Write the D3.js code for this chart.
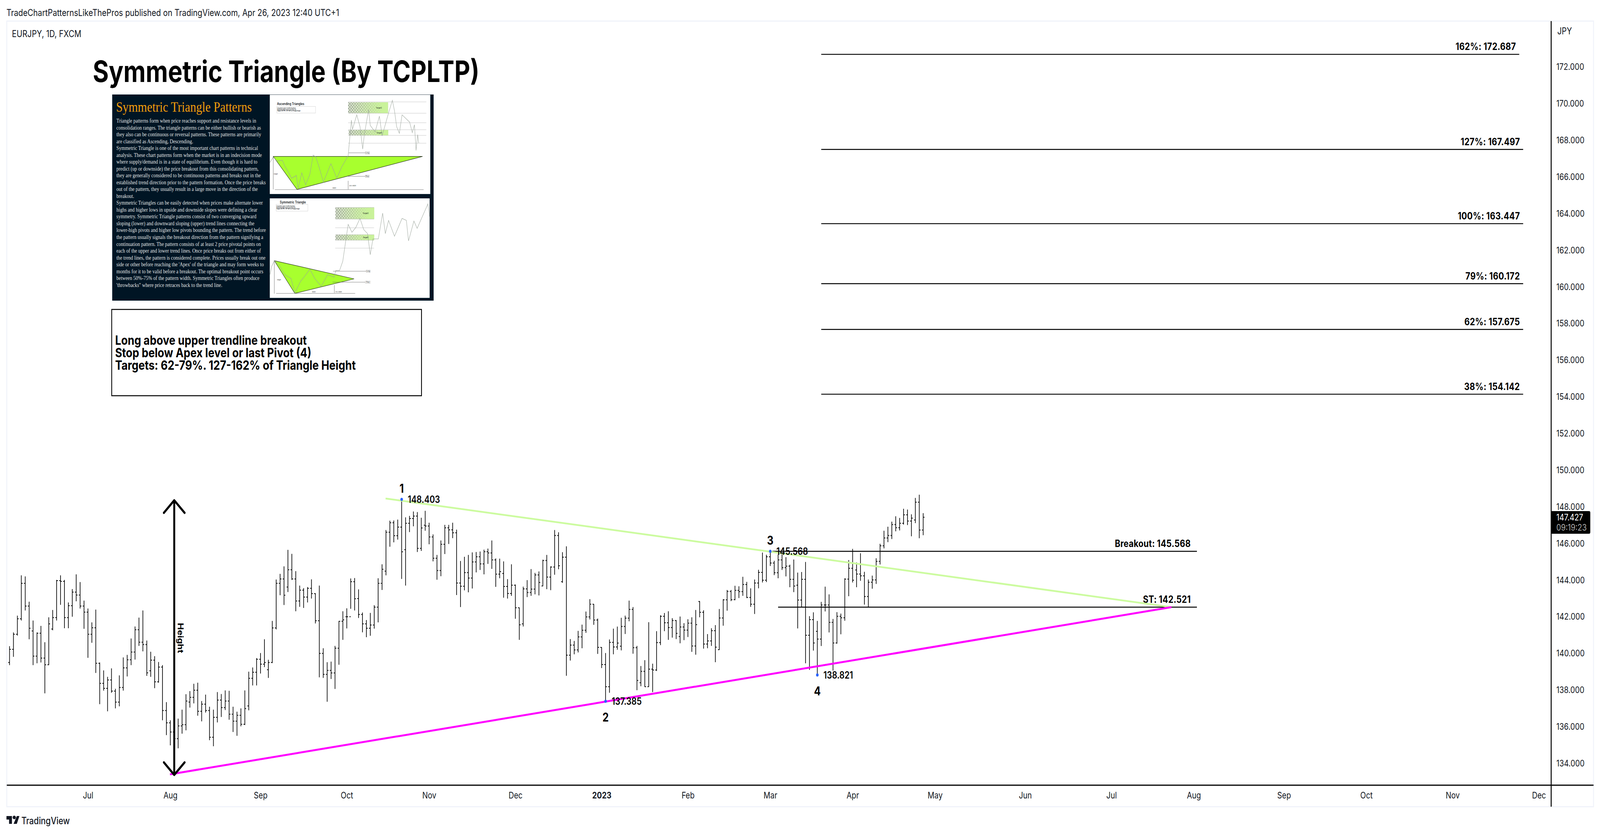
<!DOCTYPE html>
<html>
<head>
<meta charset="utf-8">
<script src="https://cdn.jsdelivr.net/npm/d3@7"></script>
<style>
  html, body { margin: 0; background: #fff; overflow: hidden; }
  text { font-family: Inter, Roboto, sans-serif; fill: #131722; }
</style>
</head>
<body>
<script>
// daily bars
const opens = [
139.50,140.22,141.04,141.89,143.82,142.58,141.22,139.85,141.10,139.74,
139.38,141.33,141.95,143.97,143.93,141.95,142.60,143.34,143.18,142.58,
142.25,141.04,141.40,139.46,138.36,138.09,138.55,137.94,137.34,138.14,
139.21,139.65,140.07,141.29,140.61,140.48,139.05,139.63,138.45,139.25,
136.88,136.21,135.71,135.35,136.04,136.11,137.34,137.60,137.99,136.84,
137.23,136.88,135.42,136.51,137.45,137.04,137.40,136.68,136.30,136.62,
136.13,137.13,138.64,138.97,139.68,139.41,139.11,139.50,141.39,143.82,
144.06,143.62,144.56,144.06,142.86,143.45,143.07,143.55,143.26,141.78,
140.00,138.85,139.07,138.93,140.28,141.75,142.00,142.00,143.91,142.99,
142.12,141.61,141.37,141.55,142.52,143.82,144.49,146.61,147.13,146.42,
146.89,145.66,147.10,147.36,147.49,145.73,146.99,146.95,146.35,145.19,
144.52,145.95,146.85,146.74,146.58,143.84,143.66,144.41,144.11,144.99,
145.27,144.88,145.55,145.48,145.10,144.32,144.36,143.65,143.27,143.72,
142.49,141.61,143.52,143.32,143.51,144.28,143.68,145.07,144.16,144.71,
146.43,143.91,145.25,139.90,140.45,140.19,140.90,141.26,141.99,142.68,
141.82,140.33,139.39,138.18,140.60,140.35,140.39,141.47,141.92,142.40,
140.31,138.40,139.02,138.18,139.14,139.09,140.59,142.02,141.67,141.41,
141.79,140.92,141.44,141.27,141.65,140.40,142.83,142.24,140.51,140.68,
141.24,140.20,141.93,142.92,143.38,142.93,143.44,143.37,143.76,143.05,
142.68,143.84,144.42,143.99,145.27,144.93,144.40,145.10,144.68,144.76,
144.04,143.72,142.91,144.04,140.99,141.84,141.20,140.78,142.64,142.64,
141.69,140.57,142.02,141.94,144.05,144.64,144.55,144.33,144.23,143.10,
143.88,144.01,145.02,145.87,146.30,146.43,147.03,146.86,147.10,147.56,
147.22,147.28,148.25,146.73];
const highs = [
140.39,141.14,142.06,144.26,144.20,142.82,141.79,141.14,141.50,140.61,
141.97,142.37,144.01,144.26,144.01,142.78,143.51,144.31,143.89,142.88,
142.45,141.69,142.39,139.50,139.07,138.72,139.18,138.07,138.80,139.78,
139.92,140.81,141.47,141.95,142.34,140.70,140.09,139.85,139.53,139.36,
137.34,136.35,135.93,136.44,136.93,137.77,137.94,138.34,138.40,137.40,
137.75,137.09,136.93,137.89,137.78,137.98,137.96,137.09,136.82,137.00,
137.98,139.00,139.23,139.74,140.02,140.77,139.65,141.77,144.03,144.34,
144.75,145.65,145.43,144.49,143.70,143.56,143.62,144.04,143.28,143.70,
140.28,139.52,139.55,140.41,141.77,142.30,142.46,144.09,144.11,143.49,
142.23,141.82,142.21,142.63,144.10,144.86,146.73,147.24,147.25,147.30,
148.403,147.42,147.50,147.74,147.71,147.40,147.78,147.13,146.49,145.37,
146.16,147.01,147.01,147.13,146.75,145.04,145.27,145.37,145.51,145.53,
145.56,145.66,145.72,146.16,145.18,145.17,145.02,144.05,144.86,143.76,
142.50,143.64,144.00,144.60,144.39,144.47,145.11,145.37,144.75,146.73,
146.61,145.52,145.84,140.78,140.68,141.23,141.57,142.28,142.96,142.69,
141.90,140.33,140.02,140.76,141.35,141.46,141.94,142.06,142.88,142.53,
140.41,139.31,139.63,141.70,139.44,141.21,142.08,142.20,142.30,141.92,
141.82,142.01,141.65,141.86,141.97,142.37,142.85,142.35,141.05,141.37,
141.54,142.42,142.96,143.46,143.46,143.69,143.66,144.18,143.90,143.55,
144.03,144.56,145.50,145.38,145.568,145.05,145.40,145.47,145.25,144.84,
145.12,144.41,144.44,144.99,142.03,142.24,141.77,142.81,143.64,143.22,
141.88,142.25,142.17,144.10,145.09,145.70,144.96,145.46,144.45,144.03,
144.24,145.19,145.98,146.69,146.91,147.19,147.48,147.39,147.89,147.85,
147.59,148.48,148.66,147.65];
const lows = [
139.36,139.81,140.97,141.79,142.34,140.77,139.36,139.46,139.50,137.82,
139.36,141.26,141.79,142.65,141.37,141.37,142.00,142.84,142.45,141.34,
139.76,140.58,138.93,137.23,137.97,136.84,137.85,137.00,137.11,137.97,
138.74,139.36,139.66,140.41,140.11,138.77,138.72,138.10,138.40,136.35,
135.54,134.98,133.42,134.82,135.62,135.80,137.04,137.27,136.60,136.29,
136.77,135.26,134.93,136.23,136.53,136.91,136.38,135.71,135.50,136.02,
136.09,136.89,138.25,138.25,138.90,139.25,138.66,139.47,141.31,143.17,
142.64,143.35,144.01,142.30,142.54,142.48,142.78,142.99,141.63,138.69,
138.66,137.36,138.60,138.06,139.38,140.74,141.36,142.43,142.34,141.93,
141.15,140.88,140.96,141.35,141.69,143.46,144.26,145.82,146.06,146.21,
144.06,143.70,146.62,146.93,145.53,145.59,146.69,145.95,145.02,144.02,
144.21,145.42,145.97,146.29,143.18,142.53,143.44,143.33,143.54,144.42,
144.55,144.31,144.88,144.61,143.63,144.10,143.04,142.99,143.14,141.89,
140.74,141.47,143.07,143.14,143.22,143.16,143.66,143.50,143.45,144.29,
144.59,143.85,138.78,139.61,139.95,140.05,140.28,141.12,141.85,141.56,
139.97,139.20,137.385,137.85,139.95,140.20,140.16,141.06,141.75,139.98,
137.99,138.21,138.17,138.17,137.89,139.04,140.45,141.21,140.74,140.86,
140.78,140.55,140.72,140.89,140.08,139.93,141.97,140.26,140.28,140.41,
139.52,140.19,141.51,142.33,142.85,142.90,143.02,143.14,143.02,142.54,
142.15,143.55,143.87,143.89,144.77,144.27,144.10,144.55,144.20,143.61,
143.34,141.36,142.52,139.46,139.10,140.15,138.821,140.40,142.29,141.14,
139.06,140.53,141.04,141.78,143.12,143.87,143.61,143.96,142.66,142.52,
143.53,143.79,144.85,145.73,146.07,146.24,146.66,146.71,147.03,147.00,
146.39,147.11,146.28,146.45];
const closes = [
140.22,141.04,141.89,143.82,142.58,141.37,139.85,141.10,139.74,139.38,
141.61,141.95,143.97,143.93,141.95,142.60,143.34,143.18,142.58,142.25,
141.04,141.40,139.46,138.36,138.09,138.55,137.94,137.34,138.14,139.21,
139.65,140.07,141.29,140.61,140.48,138.94,139.63,138.45,139.25,136.88,
136.21,135.71,135.35,136.04,136.11,137.40,137.60,137.99,136.84,137.23,
136.88,135.42,136.51,137.45,137.04,137.40,136.68,136.30,136.62,136.13,
136.99,138.64,138.97,139.68,139.41,139.50,139.50,141.39,143.82,144.06,
143.17,144.56,144.06,142.86,143.45,143.07,143.55,143.26,141.78,140.00,
138.85,139.07,138.93,140.28,141.75,141.83,142.00,143.91,142.98,142.12,
141.61,141.37,141.55,142.52,143.82,144.59,146.61,147.13,146.42,146.89,
145.54,147.10,147.36,147.49,145.73,146.84,146.95,146.35,145.19,144.52,
145.95,146.85,146.74,146.58,143.84,143.66,144.41,144.11,144.99,145.27,
144.88,145.55,145.48,145.10,144.32,144.46,143.65,143.27,143.72,142.49,
141.56,143.52,143.32,143.51,144.28,143.87,145.07,144.16,144.71,146.43,
144.78,145.25,139.90,140.45,140.19,140.90,141.26,141.99,142.68,141.82,
140.33,139.39,138.18,140.60,140.35,140.56,141.47,141.92,142.40,140.31,
138.52,139.02,138.18,139.14,139.09,140.59,142.02,141.67,141.41,141.79,
141.09,141.44,141.27,141.65,140.40,141.57,142.24,140.51,140.68,141.24,
140.34,141.93,142.92,143.38,142.93,143.44,143.37,143.76,143.05,142.68,
143.84,144.42,143.99,145.27,144.93,144.40,145.10,144.68,144.76,144.04,
143.67,142.91,144.04,140.99,141.84,140.57,140.78,142.64,142.64,141.69,
140.57,142.02,141.94,144.05,144.64,143.99,144.33,144.23,143.10,143.88,
144.01,145.02,145.87,146.30,146.43,147.03,146.86,147.10,147.56,147.22,
147.38,148.25,146.73,147.427];

// axis ticks (bar number, label)
const monthBars = [20,41,64,86,107,129,151,173,194,215,236,259,281,302,325,346,368,390];
const monthLabels = ["Jul","Aug","Sep","Oct","Nov","Dec","2023","Feb","Mar","Apr","May","Jun","Jul","Aug","Sep","Oct","Nov","Dec"];
const priceTicks = d3.range(134, 173, 2);

// levels: [label, price, first bar, last bar]
const fibLevels = [
  ["162%: 172.687", 172.687, 207, 385],
  ["127%: 167.497", 167.497, 207, 386],
  ["100%: 163.447", 163.447, 207, 386],
  ["79%: 160.172", 160.172, 207, 386],
  ["62%: 157.675", 157.675, 207, 386],
  ["38%: 154.142", 154.142, 207, 386]
];
const breakoutLevels = [
  ["Breakout: 145.568", 145.568, 194.5, 302.8],
  ["ST: 142.521", 142.521, 196, 302.8]
];
// trendlines: [bar, price] ends
const upperLine = [[95.9, 148.45], [296.3, 142.52]];
const lowerLine = [[40.9, 133.40], [296.3, 142.52]];
// pivots: number, bar, price, above?
const pivots = [
  ["1", 100, 148.403, true],
  ["2", 152, 137.385, false],
  ["3", 194, 145.568, true],
  ["4", 206, 138.821, false]
];
const heightArrow = [42, 148.35, 133.37];
const lastPrice = 147.427;

// text of the pasted image
const panelTitle = "Symmetric Triangle Patterns";
const panelLines = [
"Triangle patterns form when price reaches support and resistance levels in",
"consolidation ranges. The triangle patterns can be either bullish or bearish as",
"they also can be continuous or reversal patterns. These patterns are primarily",
"are classified as Ascending, Descending.",
"Symmetric Triangle is one of the most important chart patterns in technical",
"analysis. These chart patterns form when the market is in an indecision mode",
"where supply/demand is in a state of equilibrium. Even though it is hard to",
"predict (up or downside) the price breakout from this consolidating pattern,",
"they are generally considered to be continuous patterns and breaks out in the",
"established trend direction prior to the pattern formation. Once the price breaks",
"out of the pattern, they usually result in a large move in the direction of the",
"breakout.",
"Symmetric Triangles can be easily detected when prices make alternate lower",
"highs and higher lows in upside and downside slopes were defining a clear",
"symmetry. Symmetric Triangle patterns consist of two converging upward",
"sloping (lower) and downward sloping (upper) trend lines connecting the",
"lower-high pivots and higher low pivots bounding the pattern. The trend before",
"the pattern usually signals the breakout direction from the pattern signifying a",
"continuation pattern. The pattern consists of at least 2 price pivotal points on",
"each of the upper and lower trend lines. Once price breaks out from either of",
"the trend lines, the pattern is considered complete. Prices usually break out one",
"side or other before reaching the 'Apex' of the triangle and may form weeks to",
"months for it to be valid before a breakout. The optimal breakout point occurs",
"between 50%-75% of the pattern width. Symmetric Triangles often produce",
"'throwbacks\" where price retraces back to the trend line."
];
const noteLines = [
  "Long above upper trendline breakout",
  "Stop below Apex level or last Pivot (4)",
  "Targets: 62-79%. 127-162% of Triangle Height"
];

// mini charts inside the pasted image, in image units
const ascTriangle = [[45,475],[1430,475],[265,725]];
const ascTrace = [[15,520],[45,480],[80,510],[130,505],[150,545],[190,600],[215,640],[260,620],[275,720],[310,600],[345,690],[385,610],[415,465],[440,480],[470,555],[510,670],[580,530],[635,640],[680,555],[740,470],[750,380],[770,200],[780,270],[820,160],[850,250],[875,420],[890,310],[930,120],[945,240],[990,290],[1030,170],[1055,320],[1110,160],[1150,50],[1170,130],[1190,250],[1215,300],[1240,160],[1310,215],[1335,295],[1355,235],[1370,430],[1385,310],[1395,375]];
const ascLevels = [62,148,220,273,316,375];
const ascBoxes = [[740,65,1110,148,"Target2"],[745,275,1112,316,"Target1"]];
const ascGuides = [[45,475,45,725],[60,727,1440,727],[740,660,740,725],[745,448,900,448],[740,626,900,626]];
const ascTags = [[900,439,938,458,"Long"],[900,617,935,635,"Stop"]];
const ascNotes = [[50,613,"Height"],[595,720,"Width"],[750,700,"50% Width"]];
const symTriangle = [[55,1265],[795,1403],[245,1513]];
const symTrace = [[15,1370],[30,1310],[55,1265],[100,1300],[150,1370],[210,1400],[245,1510],[300,1420],[330,1390],[385,1330],[430,1400],[490,1460],[550,1370],[610,1390],[625,1340],[660,1340],[690,1270],[715,1130],[740,990],[775,1050],[810,1015],[850,945],[885,1030],[920,1060],[945,1220],[970,1100],[1020,1100],[1060,905],[1085,1060],[1115,960],[1170,1080],[1240,945],[1280,960],[1300,1115],[1350,965],[1380,1020],[1480,835],[1495,930]];
const symLevels = [862,950,1016,1068,1110,1170];
const symBoxes = [[622,862,982,950,"Target2"],[622,1068,982,1110,"Target1"]];
const symGuides = [[55,1270,55,1515],[72,1513,805,1513],[612,1450,612,1510],[600,1345,907,1345],[595,1428,900,1428]];
const symTags = [[907,1337,945,1353,"Long"],[900,1420,945,1436,"Stop"]];
const symNotes = [[80,1415,"Height"],[405,1507,"Width"],[620,1506,"75% Width"]];

const W = 4948, H = 2136;
// the window can come out narrower than asked, so the whole drawing is fitted to it
const svg = d3.select("body").append("svg")
  .attr("viewBox", `0 0 ${W} ${H}`)
  .attr("preserveAspectRatio", "none")
  .style("width", "100vw").style("height", "100vh")
  .style("display", "block");

svg.append("rect").attr("width", W).attr("height", H).attr("fill", "#fff");

const x = d3.scaleLinear().domain([0, 233]).range([29.5, 2855]);
const y = d3.scaleLinear().domain([134, 172]).range([1955, 171.4]);

const frame = { left: 21, top: 54, right: 4928, bottom: 2066, axisX: 4797, axisY: 2011 };

// frame
svg.append("rect")
  .attr("x", frame.left).attr("y", frame.top)
  .attr("width", frame.right - frame.left).attr("height", frame.bottom - frame.top)
  .attr("fill", "none").attr("stroke", "#f0f3fa").attr("stroke-width", 3);

svg.append("text").attr("x", 20).attr("y", 41).style("font-size", "24px")
  .text("TradeChartPatternsLikeThePros published on TradingView.com, Apr 26, 2023 12:40 UTC+1");
svg.append("text").attr("x", 37).attr("y", 95).style("font-size", "24px").text("EURJPY, 1D, FXCM");
svg.append("text").attr("x", 4816).attr("y", 88).style("font-size", "24px").text("JPY");

// ohlc bars
const bars = opens.map((o, i) => ({ i, o, h: highs[i], l: lows[i], c: closes[i] }));
const barG = svg.append("g").attr("stroke", "#000").attr("stroke-width", 2).attr("fill", "none");
barG.selectAll("path").data(bars).enter().append("path")
  .attr("d", d => {
    const px = x(d.i);
    return `M${px},${y(d.h)}V${y(d.l)}M${px - 4},${y(d.o)}H${px}M${px},${y(d.c)}H${px + 4}`;
  });

// levels
const levelG = svg.append("g");
levelG.selectAll("line").data(fibLevels.concat(breakoutLevels)).enter().append("line")
  .attr("x1", d => x(d[2])).attr("x2", d => x(d[3]))
  .attr("y1", d => y(d[1])).attr("y2", d => y(d[1]))
  .attr("stroke", "#000").attr("stroke-width", 2.4);
levelG.selectAll("text").data(fibLevels.concat(breakoutLevels)).enter().append("text")
  .attr("x", d => x(d[3]) - (d[0].includes("%") ? 10 : 19))
  .attr("y", d => y(d[1]) - 11)
  .attr("text-anchor", "end")
  .style("font-size", "25.5px").style("font-weight", 700).style("fill", "#000")
  .style("letter-spacing", "0.4px")
  .text(d => d[0]);

// trendlines
const lineGen = d3.line().x(d => x(d[0])).y(d => y(d[1]));
svg.append("path").attr("d", lineGen(upperLine)).attr("fill", "none")
  .attr("stroke", "#ccfb9f").attr("stroke-width", 4.5);
svg.append("path").attr("d", lineGen(lowerLine)).attr("fill", "none")
  .attr("stroke", "#ff00ff").attr("stroke-width", 5);

// height arrow
const ax = x(heightArrow[0]), aTop = y(heightArrow[1]), aBot = y(heightArrow[2]);
svg.append("path")
  .attr("d", `M${ax},${aTop}V${aBot}M${ax - 32},${aTop + 32}L${ax},${aTop}L${ax + 32},${aTop + 32}M${ax - 32},${aBot - 32}L${ax},${aBot}L${ax + 32},${aBot - 32}`)
  .attr("fill", "none").attr("stroke", "#000").attr("stroke-width", 6)
  .attr("stroke-linecap", "round").attr("stroke-linejoin", "round");
svg.append("text")
  .attr("transform", `translate(${ax + 11},${(aTop + aBot) / 2 + 1}) rotate(90)`)
  .attr("text-anchor", "middle")
  .style("font-size", "24px").style("font-weight", 700).style("fill", "#000")
  .text("Height");

// pivots
const pivotG = svg.append("g");
pivotG.selectAll("circle").data(pivots).enter().append("circle")
  .attr("cx", d => x(d[1])).attr("cy", d => y(d[2])).attr("r", 4).attr("fill", "#2962ff");
pivotG.selectAll("text.num").data(pivots).enter().append("text").attr("class", "num")
  .attr("x", d => x(d[1])).attr("y", d => y(d[2]) + (d[3] ? -17 : 52))
  .attr("text-anchor", "middle")
  .style("font-size", "31px").style("font-weight", 700).style("fill", "#000")
  .text(d => d[0]);
pivotG.selectAll("text.val").data(pivots).enter().append("text").attr("class", "val")
  .attr("x", d => x(d[1]) + 19).attr("y", d => y(d[2]) + 9)
  .style("font-size", "25px").style("font-weight", 600).style("fill", "#000")
  .text(d => d3.format(".3f")(d[2]));

// axis lines
svg.append("line").attr("x1", frame.axisX).attr("x2", frame.axisX)
  .attr("y1", frame.top).attr("y2", frame.bottom).attr("stroke", "#000").attr("stroke-width", 3);
svg.append("line").attr("x1", frame.left).attr("x2", frame.right)
  .attr("y1", frame.axisY).attr("y2", frame.axisY).attr("stroke", "#000").attr("stroke-width", 3);

const yAxis = d3.axisRight(y).tickValues(priceTicks).tickFormat(d3.format(".3f")).tickSize(0).tickPadding(16);
const yG = svg.append("g").attr("transform", `translate(${frame.axisX},0)`).call(yAxis);
yG.select(".domain").remove();
yG.selectAll("text").style("font-size", "23px").style("font-family", "Inter");

const xAxis = d3.axisBottom(x).tickValues(monthBars).tickFormat((d, i) => monthLabels[i]).tickSize(0).tickPadding(18);
const xG = svg.append("g").attr("transform", `translate(0,${frame.axisY})`).call(xAxis);
xG.select(".domain").remove();
xG.selectAll("text").style("font-size", "23px").style("font-family", "Inter")
  .style("font-weight", d => monthLabels[monthBars.indexOf(d)] === "2023" ? 700 : 400);

// last price tag
svg.append("path").attr("fill", "#000")
  .attr("d", "M4797,1309H4914a4,4 0 0 1 4,4V1363a4,4 0 0 1 -4,4H4797Z");
svg.append("text").attr("x", 4813).attr("y", 1333).style("font-size", "23px").style("fill", "#fff")
  .text(d3.format(".3f")(lastPrice));
svg.append("text").attr("x", 4813).attr("y", 1359).style("font-size", "23px").style("fill", "#aaa")
  .text("09:19:23");

// title
svg.append("text").attr("x", 287).attr("y", 210)
  .style("font-size", "75.4px").style("font-weight", 700).style("fill", "#000")
  .text("Symmetric Triangle (By TCPLTP)");

// pasted image
const img = svg.append("g");
img.append("rect").attr("x", 347).attr("y", 242).attr("width", 994).attr("height", 528).attr("fill", "#001524");
img.append("text").attr("x", 359).attr("y", 286)
  .style("font-family", "'Liberation Serif', serif").style("font-size", "36.7px").style("fill", "#f59e0b")
  .text(panelTitle);
img.selectAll("text.body").data(panelLines).enter().append("text").attr("class", "body")
  .attr("x", 360).attr("y", (d, i) => 314 + i * 17.53)
  .style("font-family", "'Liberation Serif', serif").style("font-size", "14.6px").style("fill", "#e6e6e6")
  .text(d => d);

const ix = d3.scaleLinear().domain([0, 1530]).range([830, 1340]);
const iy = d3.scaleLinear().domain([0, 1568]).range([240, 770]);

img.append("rect").attr("x", ix(13)).attr("y", iy(8)).attr("width", ix(1502) - ix(13)).attr("height", iy(760) - iy(8)).attr("fill", "#fff");
img.append("rect").attr("x", ix(13)).attr("y", iy(793)).attr("width", ix(1496) - ix(13)).attr("height", iy(1547) - iy(793)).attr("fill", "#fff");

const defs = svg.append("defs");
const pat = defs.append("pattern").attr("id", "chk").attr("width", 8).attr("height", 8).attr("patternUnits", "userSpaceOnUse");
pat.append("rect").attr("width", 8).attr("height", 8).attr("fill", "#e4e8e0");
pat.append("rect").attr("width", 4).attr("height", 4).attr("fill", "#9a9f98");
pat.append("rect").attr("x", 4).attr("y", 4).attr("width", 4).attr("height", 4).attr("fill", "#9a9f98");
const grad = defs.append("linearGradient").attr("id", "fadeGreen");
grad.append("stop").attr("offset", "0%").attr("stop-color", "#c9f29a").attr("stop-opacity", 0.1);
grad.append("stop").attr("offset", "85%").attr("stop-color", "#c9f29a").attr("stop-opacity", 1);

const traceGen = d3.line().x(d => ix(d[0])).y(d => iy(d[1]));

function miniChart(tri, trace, levels, boxes, lvlFrom, lvlTo, guides, tags, notes) {
  const g = img.append("g");
  g.selectAll("rect.box").data(boxes).enter().append("rect").attr("class", "box")
    .attr("x", d => ix(d[0])).attr("y", d => iy(d[1]))
    .attr("width", d => ix(d[2]) - ix(d[0])).attr("height", d => iy(d[3]) - iy(d[1]))
    .attr("fill", "url(#chk)");
  g.selectAll("rect.fade").data(boxes).enter().append("rect").attr("class", "fade")
    .attr("x", d => ix(d[0])).attr("y", d => iy(d[1]))
    .attr("width", d => ix(d[2]) - ix(d[0])).attr("height", d => iy(d[3]) - iy(d[1]))
    .attr("fill", "url(#fadeGreen)");
  g.selectAll("line.lvl").data(levels).enter().append("line").attr("class", "lvl")
    .attr("x1", ix(lvlFrom)).attr("x2", ix(lvlTo))
    .attr("y1", d => iy(d)).attr("y2", d => iy(d))
    .attr("stroke", "#b5b5b5").attr("stroke-width", 0.8);
  g.append("path").attr("d", traceGen(tri) + "Z")
    .attr("fill", "#a8ff2e").attr("stroke", "#2c3a20").attr("stroke-width", 1.2);
  g.append("path").attr("d", traceGen(trace)).attr("fill", "none")
    .attr("stroke", "#9aa39a").attr("stroke-width", 1.3).attr("opacity", 0.85);
  g.selectAll("line.guide").data(guides).enter().append("line").attr("class", "guide")
    .attr("x1", d => ix(d[0])).attr("y1", d => iy(d[1]))
    .attr("x2", d => ix(d[2])).attr("y2", d => iy(d[3]))
    .attr("stroke", "#555").attr("stroke-width", 0.8);
  g.selectAll("rect.tag").data(tags).enter().append("rect").attr("class", "tag")
    .attr("x", d => ix(d[0])).attr("y", d => iy(d[1]))
    .attr("width", d => ix(d[2]) - ix(d[0])).attr("height", d => iy(d[3]) - iy(d[1]))
    .attr("fill", "#fff").attr("stroke", "#999").attr("stroke-width", 0.6);
  g.selectAll("text.tag").data(tags).enter().append("text").attr("class", "tag")
    .attr("x", d => ix((d[0] + d[2]) / 2)).attr("y", d => iy((d[1] + d[3]) / 2) + 1.5)
    .attr("text-anchor", "middle").style("font-size", "4.5px").text(d => d[4]);
  g.selectAll("text.mini").data(notes).enter().append("text").attr("class", "mini")
    .attr("x", d => ix(d[0])).attr("y", d => iy(d[1]))
    .style("font-size", "4px").text(d => d[2]);
  g.selectAll("text.tgt").data(boxes).enter().append("text").attr("class", "tgt")
    .attr("x", d => ix((d[0] + d[2]) / 2 + 100)).attr("y", d => iy((d[1] + d[3]) / 2) + 2)
    .attr("text-anchor", "middle").style("font-size", "5px").text(d => d[4]);
}
miniChart(ascTriangle, ascTrace, ascLevels, ascBoxes, 740, 1465, ascGuides, ascTags, ascNotes);
miniChart(symTriangle, symTrace, symLevels, symBoxes, 620, 980, symGuides, symTags, symNotes);

img.append("text").attr("x", ix(80)).attr("y", iy(86)).style("font-size", "8.5px").style("font-weight", 600).text("Ascending Triangles");
img.append("text").attr("x", ix(107)).attr("y", iy(832)).style("font-size", "8.5px").style("font-weight", 600).text("Symmetric Triangle");
img.append("rect").attr("x", ix(77)).attr("y", iy(97)).attr("width", ix(438) - ix(77)).attr("height", iy(146) - iy(97))
  .attr("fill", "#fff").attr("stroke", "#bbb").attr("stroke-width", 0.6);
img.append("rect").attr("x", ix(72)).attr("y", iy(838)).attr("width", ix(366) - ix(72)).attr("height", iy(890) - iy(838))
  .attr("fill", "#fff").attr("stroke", "#bbb").attr("stroke-width", 0.6);
[[82, 113], [75, 855]].forEach(p => {
  noteLines.forEach((t, i) => {
    img.append("text").attr("x", ix(p[0])).attr("y", iy(p[1] + i * 10.5)).style("font-size", "3.2px").style("font-weight", 700).text(t);
  });
});

// info box
svg.append("rect").attr("x", 345.5).attr("y", 792.5).attr("width", 958).attr("height", 221)
  .attr("fill", "#fff").attr("stroke", "#000").attr("stroke-width", 2.5);
svg.selectAll("text.info").data(noteLines).enter().append("text").attr("class", "info")
  .attr("x", 356).attr("y", (d, i) => 883 + i * 32.2)
  .style("font-size", "33px").style("font-weight", 700).style("fill", "#000")
  .text(d => d);

// logo
svg.append("path").attr("fill", "#131722")
  .attr("d", "M20,2090H37V2110H28V2099H20ZM44,2098a5,4.5 0 1 1 0.1,0ZM52,2090H60L52,2110H42Z");
svg.append("text").attr("x", 66).attr("y", 2111).style("font-size", "25px").style("font-weight", 500).text("TradingView");
</script>
</body>
</html>
